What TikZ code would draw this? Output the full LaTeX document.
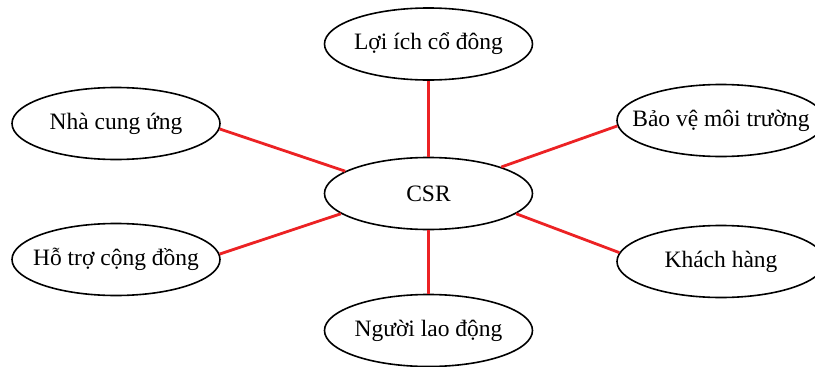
\documentclass[tikz,border=0pt]{standalone}
\usepackage{fontspec}
\setmainfont{Liberation Serif}
\usetikzlibrary{shapes.geometric}
\definecolor{edgered}{RGB}{236,34,36}
\newcommand\lbl[1]{\makebox[0pt]{#1}}
\tikzset{
  topic/.style={ellipse, draw=black, line width=1.6pt, minimum width=208pt, minimum height=72pt, inner sep=0pt, font=\fontsize{23.5}{28}\selectfont},
  link/.style={draw=edgered, line width=2.8pt}
}
\begin{document}
\begin{tikzpicture}[x=1pt,y=-1pt]
\useasboundingbox (0,0) rectangle (815,367);
\clip (0,0) rectangle (815,367);
\node[topic] (csr) at (428.5,193.5) {\lbl{CSR}};
\node[topic] (loi) at (428.5,44) {\lbl{Lợi ích cổ đông}};
\node[topic] (nha) at (116,123.5) {\lbl{Nhà cung ứng}};
\node[topic] (bao) at (721,120.5) {\lbl{Bảo vệ môi trường}};
\node[topic] (hotro) at (116,259.5) {\lbl{Hỗ trợ cộng đồng}};
\node[topic] (khach) at (721,261.5) {\lbl{Khách hàng}};
\node[topic] (nguoi) at (428.5,330.5) {\lbl{Người lao động}};
\draw[link] (csr.90) -- (loi.270);
\draw[link] (csr.165.8) -- (nha.-3.1);
\draw[link] (csr.20.5) -- (bao.183.1);
\draw[link] (csr.193.1) -- (hotro.3.6);
\draw[link] (csr.-13.6) -- (khach.175.8);
\draw[link] (csr.270) -- (nguoi.90);
\end{tikzpicture}
\end{document}
